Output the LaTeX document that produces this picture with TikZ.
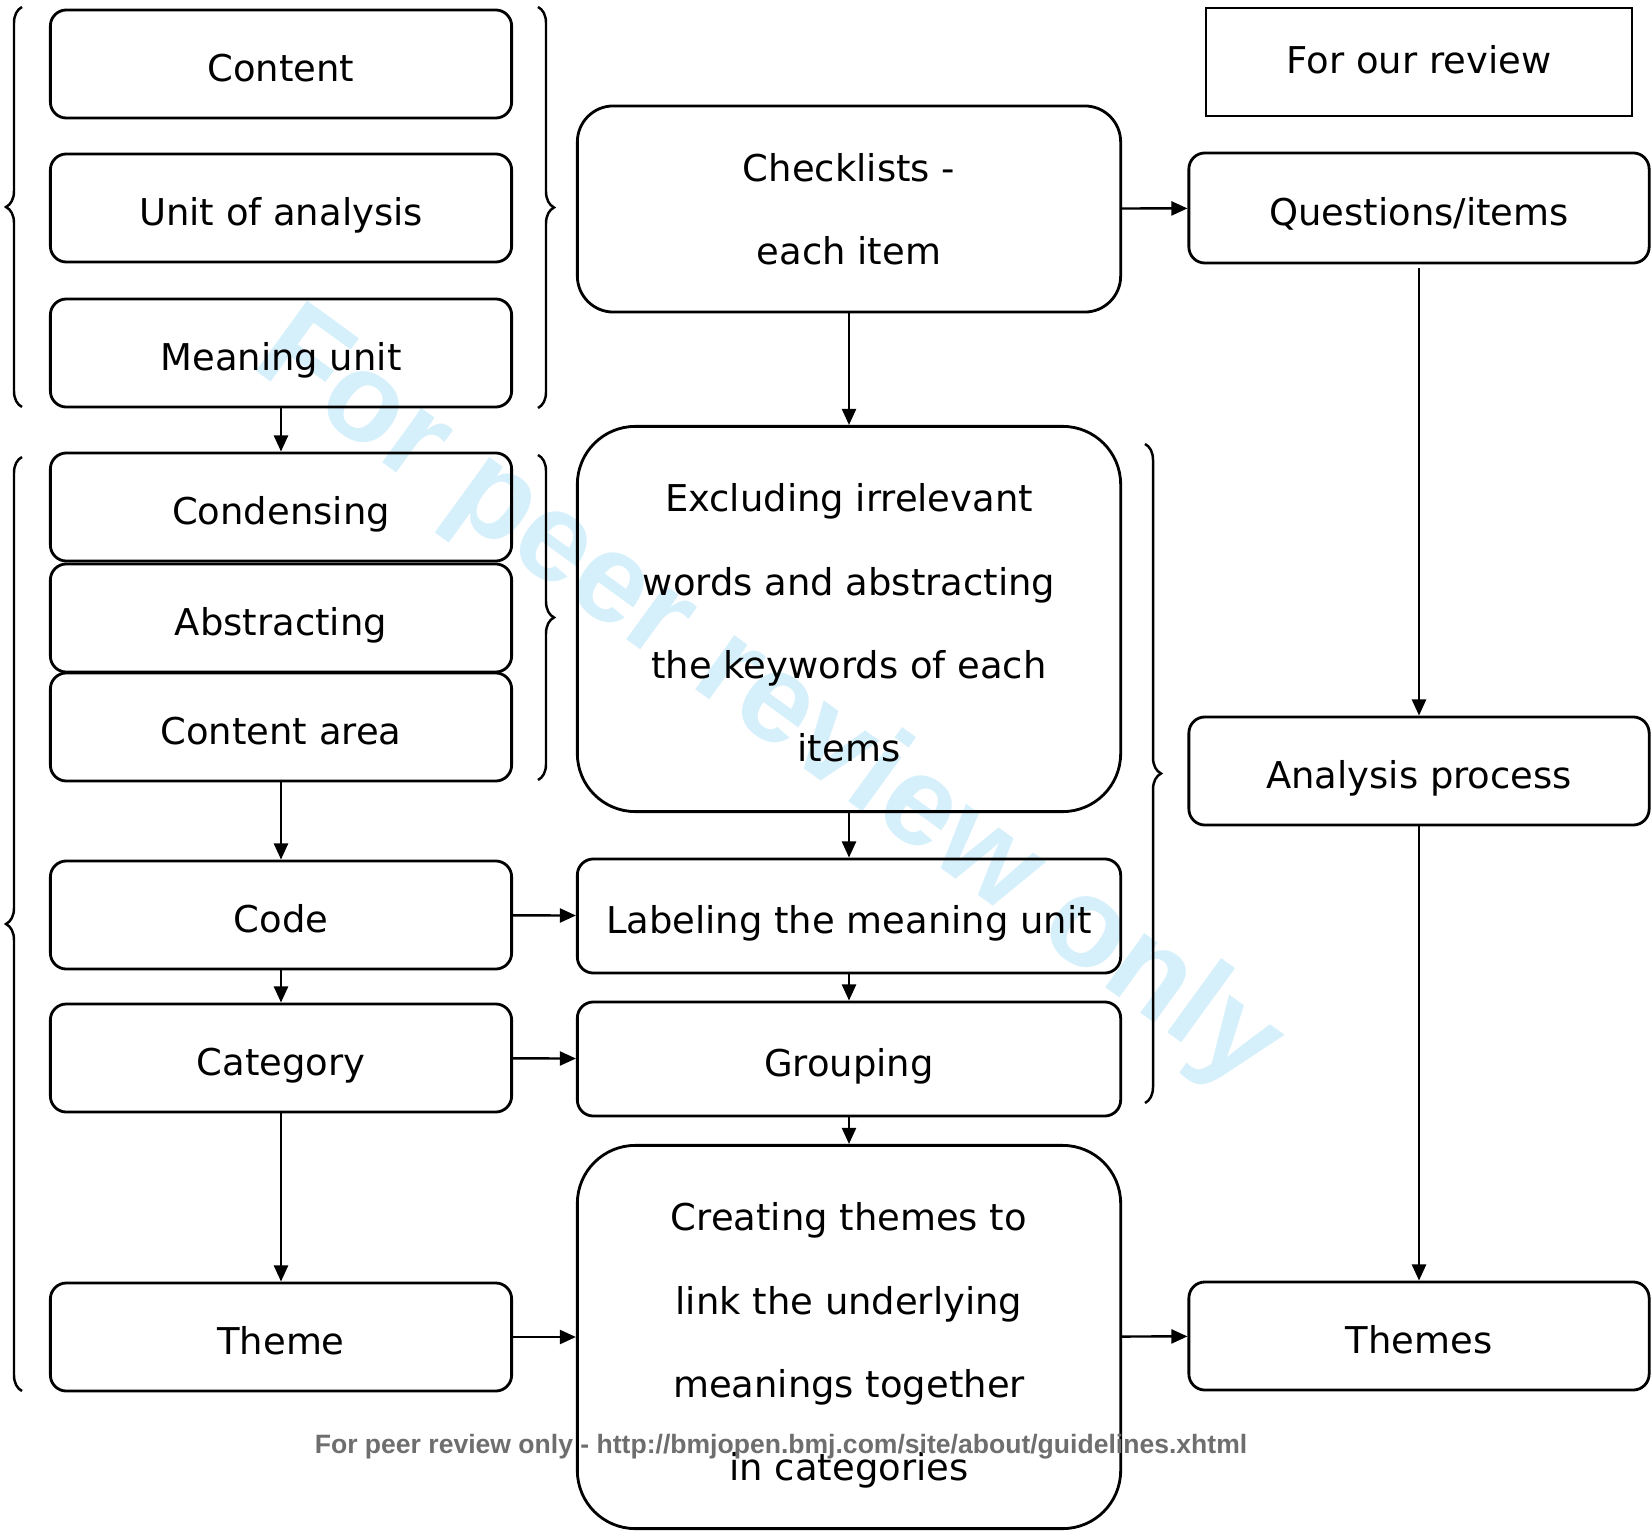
\documentclass[tikz,border=0pt]{standalone}
\usepackage{fontspec}
\setmainfont{DejaVu Sans}
\newfontfamily\wmfont{Liberation Sans}
\usetikzlibrary{arrows.meta,decorations.pathreplacing}
\definecolor{wmblue}{RGB}{214,240,251}
\definecolor{footgray}{RGB}{110,110,110}

\begin{document}
\begin{tikzpicture}[x=0.01cm,y=-0.01cm,
    box/.style={draw, line width=0.8pt, rounded corners=0.16cm, minimum width=4.61cm,
        minimum height=1.08cm, inner sep=0pt, align=center,
        font=\fontsize{10.5}{23.7}\selectfont},
    one/.style={text height=10.2pt, text depth=0pt},
    wide/.style={minimum width=5.43cm},
    arr/.style={-{Triangle[length=4.6pt,width=4pt]}, line width=0.7pt},
    brc/.style={decorate, decoration={brace, amplitude=0.16cm}, line width=0.7pt}]

        \useasboundingbox (0,0) rectangle (1652,1531);

        \node[font=\wmfont\bfseries\fontsize{36}{36}\selectfont, text=wmblue, rotate=-36,
            anchor=base, inner sep=0pt] (wm) at (748,728) {For peer review only};

        \node[box, one] (content) at (281,64) {Content};
        \node[box, one] (unit) at (281,208) {Unit of analysis};
        \node[box, one] (meaning) at (281,353) {Meaning unit};
        \node[box, one] (condensing) at (281,507) {Condensing};
        \node[box, one] (abstracting) at (281,618) {Abstracting};
        \node[box, one] (contentarea) at (281,727) {Content area};
        \node[box, one] (code) at (281,915) {Code};
        \node[box, one] (category) at (281,1058) {Category};
        \node[box, one] (theme) at (281,1337) {Theme};

        \node[box, wide, minimum height=2.06cm, rounded corners=0.36cm] (checklists) at (849,209) {Checklists -\\each item};
        \node[box, wide, minimum height=3.85cm, rounded corners=0.58cm, text height=81.2pt, text depth=0pt] (excluding) at (849,619) {Excluding irrelevant\\words and abstracting\\the keywords of each\\items};
        \node[box, one, wide, minimum height=1.14cm] (labeling) at (849,916) {Labeling the meaning unit};
        \node[box, one, wide, minimum height=1.14cm] (grouping) at (849,1059) {Grouping};
        \node[box, wide, minimum height=3.83cm, rounded corners=0.58cm, text height=81.8pt, text depth=0pt] (creating) at (849,1337) {Creating themes to\\link the underlying\\meanings together\\in categories};

        \node[box, rounded corners=0pt, line width=0.5pt, minimum width=4.26cm,
            text height=6.6pt, text depth=0pt] (review) at (1419,62) {For our review};
        \node[box, one, minimum width=4.6cm, minimum height=1.1cm] (questions) at (1419,208) {Questions/items};
        \node[box, one, minimum width=4.6cm] (analysis) at (1419,771) {Analysis process};
        \node[box, one, minimum width=4.6cm] (themes) at (1419,1336) {Themes};

        \draw[arr] (meaning) -- (condensing);
        \draw[arr] (contentarea) -- (code);
        \draw[arr] (code) -- (category);
        \draw[arr] (category) -- (theme);
        \draw[arr] (code) -- (labeling);
        \draw[arr] (category) -- (grouping);
        \draw[arr] (theme) -- (creating);

        \draw[arr] (checklists) -- (questions);
        \draw[arr] (checklists) -- (excluding);
        \draw[arr] (excluding) -- (labeling);
        \draw[arr] (labeling) -- (grouping);
        \draw[arr] (grouping) -- (creating);
        \draw[arr] (creating) -- (themes);

        \draw[arr, shorten <=1pt] (questions) -- (analysis);
        \draw[arr] (analysis) -- (themes);

        \draw[brc] (22,407) -- (22,7);
        \draw[brc] (538,7) -- (538,408);
        \draw[brc] (22,1391) -- (22,457);
        \draw[brc] (538,455) -- (538,780);
        \draw[brc] (1145,444) -- (1145,1103);

        \node[font=\wmfont\bfseries\fontsize{7.55}{8}\selectfont, text=footgray, anchor=base,
            inner sep=0pt] (footer) at (781,1453) {For peer review only - http://bmjopen.bmj.com/site/about/guidelines.xhtml};
    \end{tikzpicture}
\end{document}
